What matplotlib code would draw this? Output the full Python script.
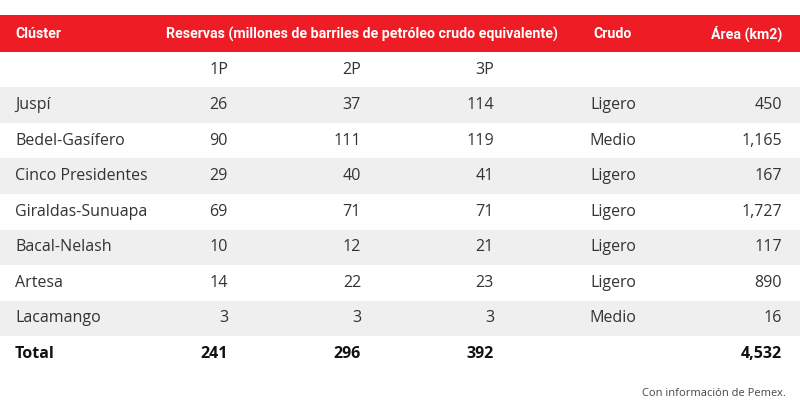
import matplotlib.pyplot as plt
from matplotlib.patches import Rectangle

# DATOS
clusters = ["Juspí", "Bedel-Gasífero", "Cinco Presidentes", "Giraldas-Sunuapa",
            "Bacal-Nelash", "Artesa", "Lacamango"]
p1 = [26, 90, 29, 69, 10, 14, 3]
p2 = [37, 111, 40, 71, 12, 22, 3]
p3 = [114, 119, 41, 71, 21, 23, 3]
crudo = ["Ligero", "Medio", "Ligero", "Ligero", "Ligero", "Ligero", "Medio"]
area = [450, 1165, 167, 1727, 117, 890, 16]

RED = "#ee1c25"
GRAY = "#efefef"
TXT = "#333333"
FONT = "Open Sans"

fig = plt.figure(figsize=(8, 4.11), dpi=100)
ax = fig.add_axes([0, 0, 1, 1])
ax.set_xlim(0, 800)
ax.set_ylim(411, 0)
ax.axis("off")

# Encabezado
ax.add_patch(Rectangle((0, 15), 800, 37, color=RED, lw=0))
hy = 34
hkw = dict(color="white", fontsize=10.2, fontweight="bold", va="center",
           family="Roboto")
ax.text(15, hy, "Clúster", ha="left", **hkw)
ax.text(362, hy, "Reservas (millones de barriles de petróleo crudo equivalente)", ha="center", **hkw)
ax.text(613, hy, "Crudo", ha="center", **hkw)
ax.text(782, hy, "Área (km2)", ha="right", **hkw)

cx = [228, 361, 494]
row_h = 35.5
top = 52

def fila(i, vals, bold=False, fondo=None):
    y0 = top + i * row_h
    if fondo:
        ax.add_patch(Rectangle((0, y0), 800, row_h, color=fondo, lw=0))
    yc = y0 + row_h / 2
    kw = dict(color=TXT if not bold else "#111111", fontsize=11.5, va="center",
              family=FONT, fontweight="bold" if bold else "normal")
    ax.text(15, yc, vals[0], ha="left", **kw)
    for x, v in zip(cx, vals[1:4]):
        ax.text(x, yc, v, ha="right", **kw)
    ax.text(613, yc, vals[4], ha="center", **kw)
    ax.text(782, yc, vals[5], ha="right", **kw)

fila(0, ["", "1P", "2P", "3P", "", ""])
for i in range(len(clusters)):
    fila(i + 1, [clusters[i], str(p1[i]), str(p2[i]), str(p3[i]), crudo[i], f"{area[i]:,}"],
         fondo=GRAY if i % 2 == 0 else None)
fila(len(clusters) + 1, ["Total", str(sum(p1)), str(sum(p2)), str(sum(p3)), "", f"{sum(area):,}"],
     bold=True)

ax.text(786, 393, "Con información de Pemex.", ha="right", va="center",
        fontsize=8, color="#444444", family=FONT)

fig.savefig("out.png", dpi=100)
